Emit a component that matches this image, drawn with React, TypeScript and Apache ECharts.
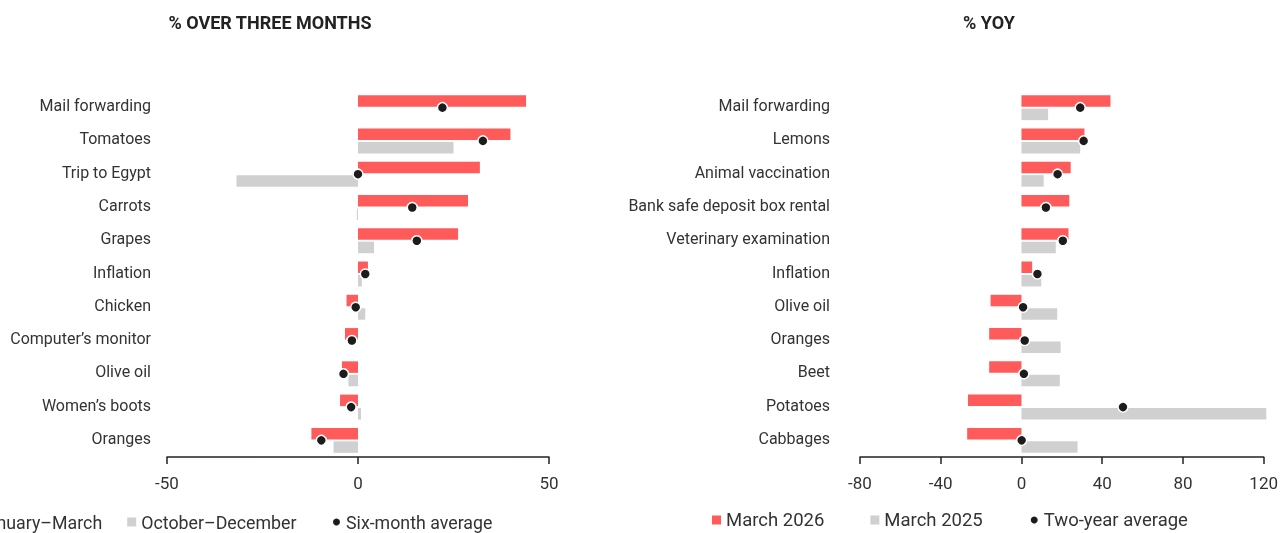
import React, { useEffect, useRef } from "react";
import * as echarts from "echarts";

const leftCategories = ["Mail forwarding", "Tomatoes", "Trip to Egypt", "Carrots", "Grapes", "Inflation", "Chicken", "Computer’s monitor", "Olive oil", "Women’s boots", "Oranges"];
const leftJanMar = [44, 39.9, 31.9, 28.8, 26.2, 2.6, -3, -3.4, -4.2, -4.7, -12.2];
const leftOctDec = [0, 25, -31.8, -0.3, 4.2, 1, 1.9, 0, -2.5, 0.8, -6.4];
const leftAvg = [22.1, 32.7, 0, 14.2, 15.4, 1.9, -0.6, -1.6, -3.8, -1.8, -9.6];

const rightCategories = ["Mail forwarding", "Lemons", "Animal vaccination", "Bank safe deposit box rental", "Veterinary examination", "Inflation", "Olive oil", "Oranges", "Beet", "Potatoes", "Cabbages"];
const march2026 = [44.1, 31.2, 24.4, 23.7, 23.3, 5.3, -15.3, -16, -16, -26.5, -26.9];
const march2025 = [13.2, 29.1, 11, 0, 17, 9.8, 17.7, 19.4, 19, 121.3, 27.8];
const twoYearAvg = [29.1, 30.8, 17.9, 12.1, 20.5, 7.9, 0.8, 1.6, 1.2, 50.3, 0.1];

const leftTicks = { min: -50, max: 50, interval: 50 };
const rightTicks = { min: -80, max: 120, interval: 40 };

const RED = "#ff5b5b";
const GRAY = "#d0d0d0";
const DOT = "#1c1c1c";
const TEXT = "#333333";
const FONT = "Roboto";

export default function App() {
  const ref = useRef<HTMLDivElement>(null);
  useEffect(() => {
    if (!ref.current) return;
    const chart = echarts.init(ref.current, null, { renderer: "svg" });
    const xAxisBase = (idx: number, t: { min: number; max: number; interval: number }) => ({
      type: "value",
      gridIndex: idx,
      min: t.min,
      max: t.max,
      interval: t.interval,
      position: "bottom",
      axisLine: { show: true, onZero: false, lineStyle: { color: "#222", width: 1.5 } },
      axisTick: { show: true, length: 7, lineStyle: { color: "#222", width: 1.5 } },
      splitLine: { show: false },
      axisLabel: { color: TEXT, fontFamily: FONT, fontSize: 17, margin: 17 },
    });
    const yAxisBase = (idx: number, cats: string[], margin: number) => ({
      type: "category",
      gridIndex: idx,
      data: cats,
      inverse: true,
      axisLine: { show: false },
      axisTick: { show: false },
      splitLine: { show: false },
      axisLabel: { color: TEXT, fontFamily: FONT, fontSize: 16, margin, verticalAlign: "bottom", lineHeight: 4 },
    });
    const barCommon = { type: "bar", barWidth: 11.5, barGap: "17%", clip: false };
    const dotCommon = {
      type: "scatter",
      symbol: "circle",
      symbolSize: 10,
      itemStyle: { color: DOT, borderColor: "#fff", borderWidth: 1.5, opacity: 1 },
      z: 5,
    };
    const legendCommon = {
      itemWidth: 9,
      itemHeight: 9,
      padding: 0,
      selectedMode: false,
    };
    chart.setOption({
      animation: false,
      title: [
        { text: "% OVER THREE MONTHS", left: 270, top: 13, padding: 0, textAlign: "center", textStyle: { fontFamily: FONT, fontSize: 18, fontWeight: "bold", color: "#222" } },
        { text: "% YOY", left: 989, top: 13, padding: 0, textAlign: "center", textStyle: { fontFamily: FONT, fontSize: 18, fontWeight: "bold", color: "#222" } },
      ],
      legend: [
        {
          ...legendCommon,
          data: [
            { name: "January–March", icon: "rect" },
            { name: "October–December", icon: "rect" },
          ],
          left: -37,
          top: 511,
          itemGap: 25,
          textStyle: { color: TEXT, fontFamily: FONT, fontSize: 17.8, lineHeight: 22 },
        },
        {
          ...legendCommon,
          data: [{ name: "Six-month average", icon: "circle" }],
          left: 331,
          top: 511,
          textStyle: { color: TEXT, fontFamily: FONT, fontSize: 17.8, lineHeight: 22 },
        },
        {
          ...legendCommon,
          data: [
            { name: "March 2026", icon: "rect" },
            { name: "March 2025", icon: "rect" },
            { name: "Two-year average", icon: "circle" },
          ],
          left: 712,
          top: 509,
          itemGap: 46,
          textStyle: { color: TEXT, fontFamily: FONT, fontSize: 18.5, lineHeight: 22 },
        },
      ],
      grid: [
        { left: 167, width: 382, top: 91, height: 366 },
        { left: 860, width: 407, top: 91, height: 366 },
      ],
      xAxis: [xAxisBase(0, leftTicks), xAxisBase(1, rightTicks)],
      yAxis: [yAxisBase(0, leftCategories, 16), yAxisBase(1, rightCategories, 30)],
      series: [
        { ...barCommon, name: "January–March", xAxisIndex: 0, yAxisIndex: 0, data: leftJanMar, itemStyle: { color: RED } },
        { ...barCommon, name: "October–December", xAxisIndex: 0, yAxisIndex: 0, data: leftOctDec, itemStyle: { color: GRAY } },
        { ...dotCommon, name: "Six-month average", xAxisIndex: 0, yAxisIndex: 0, data: leftAvg.map((v, i) => [v, leftCategories[i]]) },
        { ...barCommon, name: "March 2026", xAxisIndex: 1, yAxisIndex: 1, data: march2026, itemStyle: { color: RED } },
        { ...barCommon, name: "March 2025", xAxisIndex: 1, yAxisIndex: 1, data: march2025, itemStyle: { color: GRAY } },
        { ...dotCommon, name: "Two-year average", xAxisIndex: 1, yAxisIndex: 1, data: twoYearAvg.map((v, i) => [v, rightCategories[i]]) },
      ],
    });
    return () => chart.dispose();
  }, []);
  return <div ref={ref} style={{ position: "fixed", left: 0, top: 0, width: 1281, height: 533 }} />;
}
